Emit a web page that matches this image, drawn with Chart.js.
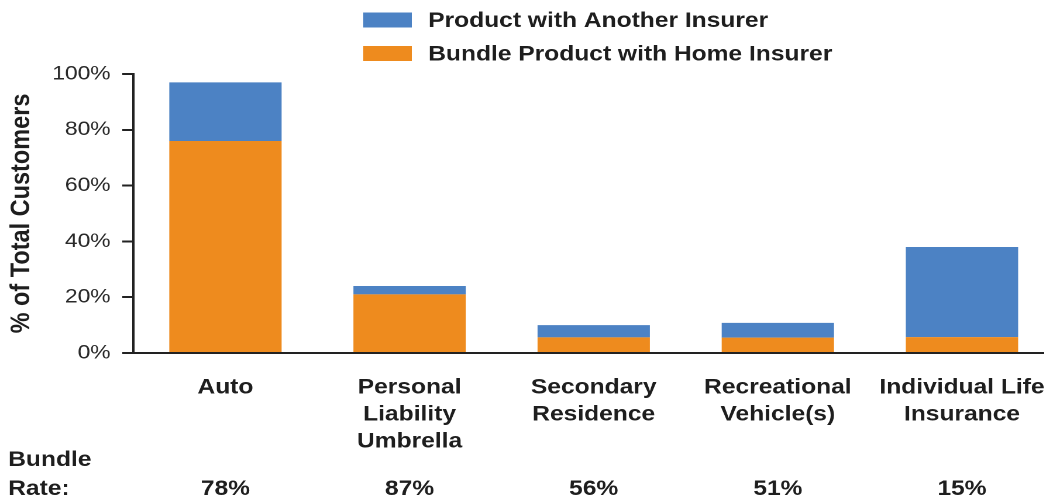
<!DOCTYPE html>
<html>
<head>
<meta charset="utf-8">
<title>Bundle rates by product</title>
<script src="https://cdn.jsdelivr.net/npm/chart.js@4.4.1/dist/chart.umd.min.js"></script>
<style>
  html, body { margin: 0; padding: 0; background: #ffffff; }
  #wrap { width: 1044px; height: 496px; overflow: hidden; }
  /* the drawing surface is laid out 906 units wide and shown 1060px wide */
  #chart { display: block; width: 1060px; height: 496px; }
</style>
</head>
<body>
<div id="wrap"><canvas id="chart" width="906" height="496" style="width:1060px;height:496px"></canvas></div>
<script>
// Product categories (multi-line axis labels)
const categories = [
  ['Auto'],
  ['Personal', 'Liability', 'Umbrella'],
  ['Secondary', 'Residence'],
  ['Recreational', 'Vehicle(s)'],
  ['Individual Life', 'Insurance']
];

// Share of total customers (%)
const bundledWithHome = [76, 21, 5.6, 5.5, 5.7];
const withAnotherInsurer = [21, 3, 4.4, 5.3, 32.3];

// Bundle rate printed under each category
const bundleRate = ['78%', '87%', '56%', '51%', '15%'];

// Y-axis tick values
const yTicks = [0, 20, 40, 60, 80, 100];

const FONT = '"Liberation Sans", Arial, Helvetica, sans-serif';
const INK = '#1e1e1e';
const BLUE = '#4C82C4';
const ORANGE = '#EE8B1E';

// Stacked legend at the top plus the "Bundle Rate" row below the axis
const extrasPlugin = {
  id: 'extras',
  afterDraw(chart) {
    const ctx = chart.ctx;
    ctx.save();

    // legend: top series first
    const items = chart.data.datasets.slice().reverse();
    ctx.font = 'bold 21px ' + FONT;
    ctx.textAlign = 'left';
    ctx.textBaseline = 'middle';
    items.forEach((ds, i) => {
      const cy = 20 + i * 33.5;
      ctx.fillStyle = ds.backgroundColor;
      ctx.fillRect(310.5, cy - 7.5, 41.5, 15);
      ctx.fillStyle = INK;
      ctx.fillText(ds.label, 366, cy + 1);
    });

    // bundle rate row
    const x = chart.scales.x;
    ctx.font = 'bold 21px ' + FONT;
    ctx.textBaseline = 'alphabetic';
    ctx.fillStyle = INK;
    ctx.textAlign = 'left';
    ctx.fillText('Bundle', 7, 466);
    ctx.fillText('Rate:', 7, 495);
    ctx.textAlign = 'center';
    bundleRate.forEach((r, i) => {
      ctx.fillText(r, x.getPixelForValue(i), 495);
    });
    ctx.restore();
  }
};

new Chart(document.getElementById('chart'), {
  type: 'bar',
  data: {
    labels: categories,
    datasets: [
      {
        label: 'Bundle Product with Home Insurer',
        data: bundledWithHome,
        backgroundColor: ORANGE,
        borderWidth: 0
      },
      {
        label: 'Product with Another Insurer',
        data: withAnotherInsurer,
        backgroundColor: BLUE,
        borderWidth: 0
      }
    ]
  },
  options: {
    responsive: false,
    animation: false,
    devicePixelRatio: 2,
    layout: { padding: { top: 74, right: 2, bottom: 0, left: 0 } },
    datasets: {
      bar: { categoryPercentage: 1.0, barPercentage: 0.61 }
    },
    plugins: {
      legend: { display: false },
      tooltip: { enabled: false }
    },
    scales: {
      x: {
        stacked: true,
        offset: true,
        grid: { display: false },
        border: { display: true, color: '#222', width: 2 },
        ticks: {
          color: INK,
          font: { family: FONT, size: 21, weight: 'bold', lineHeight: '27px' },
          padding: 13,
          maxRotation: 0,
          minRotation: 0,
          autoSkip: false
        },
        afterFit(scale) { scale.height = 143; }
      },
      y: {
        stacked: true,
        min: 0,
        max: 100,
        afterBuildTicks(scale) { scale.ticks = yTicks.map(v => ({ value: v })); },
        grid: {
          drawOnChartArea: false,
          drawTicks: true,
          tickLength: 9.5,
          color: '#222',
          lineWidth: 2
        },
        border: { display: true, color: '#222', width: 2 },
        ticks: {
          color: '#2a2a2a',
          font: { family: FONT, size: 19.5 },
          padding: 10,
          callback: v => v + '%'
        },
        title: {
          display: true,
          text: '% of Total Customers',
          color: INK,
          font: { family: FONT, size: 23.5, weight: 'bold' },
          padding: { top: 4.5, bottom: 0 }
        },
        afterFit(scale) { scale.width = 114; }
      }
    }
  },
  plugins: [extrasPlugin]
});
</script>
</body>
</html>
